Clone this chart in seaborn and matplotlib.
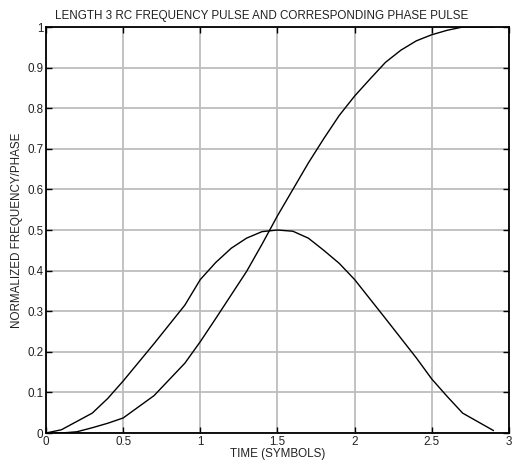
import matplotlib
matplotlib.use("Agg")
import matplotlib.pyplot as plt
import seaborn as sns
import pandas as pd

# Frequency pulse
freq_t = [0.0, 0.1, 0.3, 0.4, 0.5, 0.7, 0.9, 1.0, 1.1, 1.2, 1.3, 1.4, 1.5, 1.6,
          1.7, 1.8, 1.9, 2.0, 2.2, 2.4, 2.5, 2.6, 2.7, 2.9]
freq_v = [0.0, 0.008, 0.049, 0.085, 0.128, 0.22, 0.315, 0.378, 0.42, 0.455, 0.48,
          0.496, 0.5, 0.497, 0.48, 0.45, 0.418, 0.378, 0.282, 0.185, 0.133, 0.09,
          0.049, 0.006]

# Phase pulse
phase_t = [0.0, 0.1, 0.2, 0.3, 0.4, 0.5, 0.7, 0.9, 1.0, 1.1, 1.2, 1.3, 1.4, 1.5,
           1.6, 1.7, 1.8, 1.9, 2.0, 2.1, 2.2, 2.3, 2.4, 2.5, 2.6, 2.7, 2.9]
phase_v = [0.0, 0.0, 0.003, 0.013, 0.024, 0.037, 0.092, 0.172, 0.225, 0.282, 0.34,
           0.398, 0.465, 0.535, 0.6, 0.665, 0.725, 0.782, 0.83, 0.872, 0.913, 0.943,
           0.966, 0.981, 0.992, 1.0, 1.0]

xticks = [0, 0.5, 1, 1.5, 2, 2.5, 3]
xticklabels = ["0", "0.5", "1", "1.5", "2", "2.5", "3"]
yticks = [0, 0.1, 0.2, 0.3, 0.4, 0.5, 0.6, 0.7, 0.8, 0.9, 1]
yticklabels = ["0", "0.1", "0.2", "0.3", "0.4", "0.5", "0.6", "0.7", "0.8", "0.9", "1"]

title = "LENGTH 3 RC FREQUENCY PULSE AND CORRESPONDING PHASE PULSE"
xlabel = "TIME (SYMBOLS)"
ylabel = "NORMALIZED FREQUENCY/PHASE"

sns.set_theme(style="white")
plt.rcParams["font.family"] = ["Liberation Sans", "DejaVu Sans"]

fig = plt.figure(figsize=(5.12, 4.66), dpi=100)
ax = fig.add_axes([0.0898, 0.0708, 0.9042, 0.8712])

df_f = pd.DataFrame({"t": freq_t, "v": freq_v})
df_p = pd.DataFrame({"t": phase_t, "v": phase_v})
sns.lineplot(data=df_f, x="t", y="v", ax=ax, color="black", linewidth=1.0)
sns.lineplot(data=df_p, x="t", y="v", ax=ax, color="black", linewidth=1.0)

fs = 8.4
ax.set_xlim(0, 3)
ax.set_ylim(0, 1)
ax.set_xticks(xticks)
ax.set_xticklabels(xticklabels, fontsize=fs)
ax.set_yticks(yticks)
ax.set_yticklabels(yticklabels, fontsize=fs)
ax.grid(True, color="#bdbdbd", linewidth=1.3)
ax.set_axisbelow(True)
for s in ax.spines.values():
    s.set_color("black")
    s.set_linewidth(1.3)
    s.set_visible(True)
ax.tick_params(direction="in", length=4, width=1.0, color="black",
               top=True, right=True, bottom=True, left=True, pad=2,
               labelcolor="#222222")

ax.set_title(title, fontsize=fs, pad=6, color="#222222", x=0.465)
ax.set_xlabel(xlabel, fontsize=fs, labelpad=0, color="#222222")
ax.set_ylabel(ylabel, fontsize=fs, labelpad=3, color="#222222")

fig.savefig("out.png", dpi=100)
